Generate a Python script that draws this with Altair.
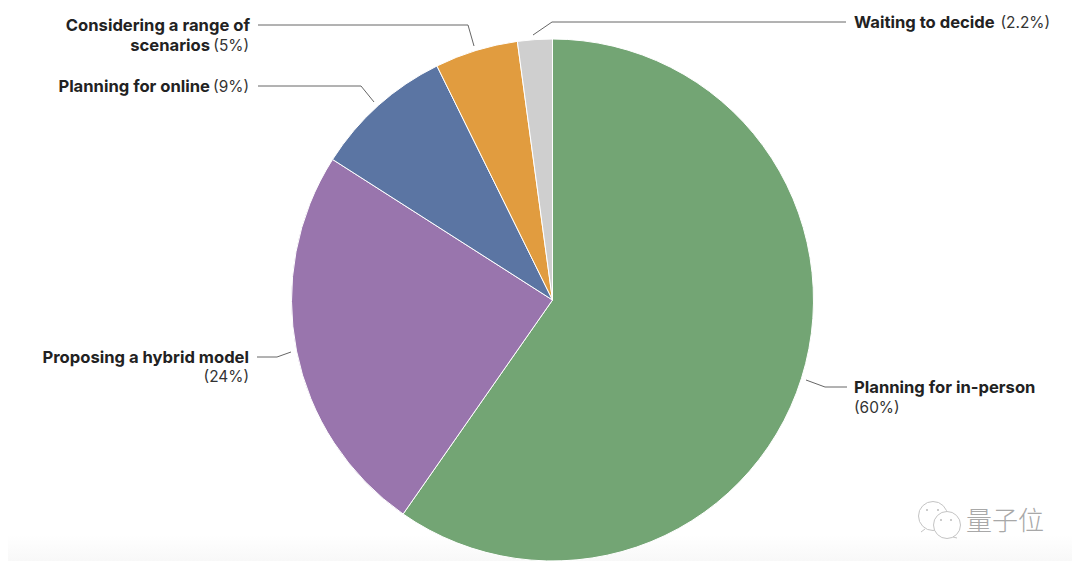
import altair as alt
import pandas as pd

categories = ["Planning for in-person", "Proposing a hybrid model", "Planning for online",
              "Considering a range of scenarios", "Waiting to decide"]
values = [59.7, 24.35, 8.65, 5.15, 2.15]
colors = ["#73A574", "#9975AD", "#5B75A3", "#E19C3F", "#CFCFCF"]

W, H = 1064, 553
def px(x): return x - 8
def py(y): return y - 8

df = pd.DataFrame({"category": categories, "value": values, "order": list(range(len(values)))})

FONT = "Inter"
INK = "#222222"

band = alt.Chart(pd.DataFrame({"a": [0]})).mark_rect(
    color=alt.Gradient(gradient="linear", x1=0, x2=0, y1=0, y2=1,
                       stops=[alt.GradientStop(color="#ffffff", offset=0),
                              alt.GradientStop(color="#f8f8f8", offset=1)])
).encode(x=alt.value(0), x2=alt.value(W), y=alt.value(py(535)), y2=alt.value(H))

pie = alt.Chart(df).mark_arc(radius=261, stroke="white", strokeWidth=1).encode(
    theta=alt.Theta("value:Q", stack=True),
    color=alt.Color("category:N", scale=alt.Scale(domain=categories, range=colors), legend=None),
    order=alt.Order("order:Q"),
    x=alt.value(px(552.5)), y=alt.value(py(300)),
)

layers = [band, pie]

leaders = [
    [(258, 25), (468, 25), (474, 46)],
    [(258, 86), (361, 86), (374, 102)],
    [(846, 22), (552, 22), (533, 35)],
    [(806, 380), (825, 387), (847, 387)],
    [(257, 357), (277, 357), (291, 352)],
]
one = pd.DataFrame({"a": [0]})
for pts in leaders:
    for (x0, y0), (x1, y1) in zip(pts[:-1], pts[1:]):
        layers.append(alt.Chart(one).mark_rule(color="#666666", strokeWidth=1).encode(
            x=alt.value(px(x0)), x2=alt.value(px(x1)), y=alt.value(py(y0)), y2=alt.value(py(y1))))

texts = [
    ("Considering a range of", 250, 25, "right", "bold"),
    ("scenarios", 210, 45, "right", "bold"),
    ("(5%)", 249, 45, "right", "normal"),
    ("Planning for online", 210, 86, "right", "bold"),
    ("(9%)", 249, 86, "right", "normal"),
    ("Proposing a hybrid model", 249, 357, "right", "bold"),
    ("(24%)", 249, 376, "right", "normal"),
    ("Waiting to decide", 854, 22, "left", "bold"),
    ("(2.2%)", 1050, 22, "right", "normal"),
    ("Planning for in-person", 854, 387, "left", "bold"),
    ("(60%)", 854, 407, "left", "normal"),
]
for t, x, y, al, w in texts:
    layers.append(alt.Chart(one).mark_text(text=t, font=FONT, fontSize=16.6 if w == "bold" else 15.4,
                                           fontWeight=w, color=INK if w == "bold" else "#333333",
                                           align=al, baseline="middle").encode(
        x=alt.value(px(x)), y=alt.value(py(y + 0.6))))

# watermark
for cx, cy, d, tail in [(933, 516, 29, ((925, 529), (921, 532))), (947, 525, 27, ((953, 537), (957, 538)))]:
    layers.append(alt.Chart(one).mark_point(shape="circle", size=d * d, filled=True, fill="white",
                                            stroke="#c4c4c4", strokeWidth=1, opacity=1).encode(
        x=alt.value(px(cx)), y=alt.value(py(cy))))
    layers.append(alt.Chart(one).mark_rule(color="#c4c4c4", strokeWidth=1).encode(
        x=alt.value(px(tail[0][0])), x2=alt.value(px(tail[1][0])),
        y=alt.value(py(tail[0][1])), y2=alt.value(py(tail[1][1]))))
for ex, ey in [(927, 510), (938, 510), (941, 520), (951, 520)]:
    layers.append(alt.Chart(one).mark_point(shape="circle", size=4, filled=True, fill="#bbbbbb", opacity=1).encode(
        x=alt.value(px(ex)), y=alt.value(py(ey))))
layers.append(alt.Chart(one).mark_text(text="量子位", font="Noto Sans CJK SC", fontSize=26, fontWeight=300,
                                       color="#a8a8a8", align="left", baseline="middle").encode(
    x=alt.value(px(966)), y=alt.value(py(522))))

chart = alt.layer(*layers).properties(
    width=W, height=H, padding=0, autosize=alt.AutoSizeParams(type="none"), background="white"
).configure_view(stroke=None)

chart.save("out.html", embed_options={"renderer": "svg", "actions": False})
